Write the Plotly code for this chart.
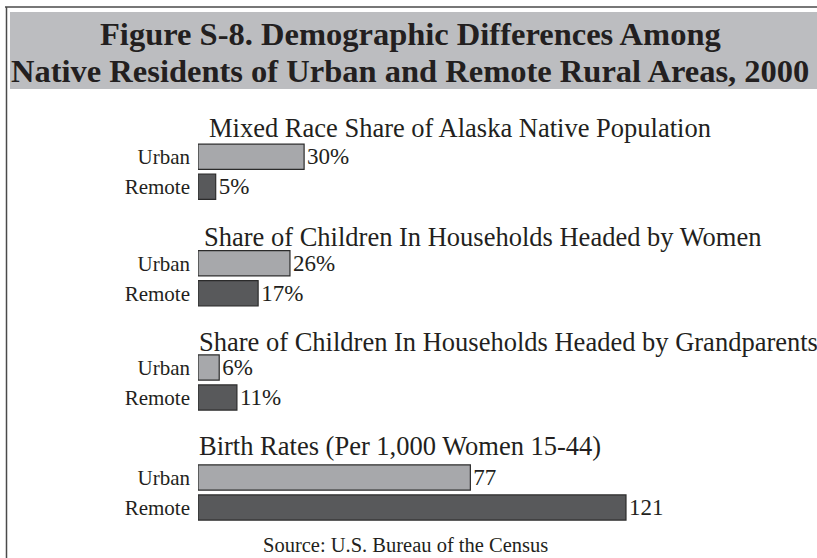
import plotly.graph_objects as go

W, H = 817, 558

categories = ["Urban", "Remote"]

panel_titles = [
    "Mixed Race Share of Alaska Native Population",
    "Share of Children In Households Headed by Women",
    "Share of Children In Households Headed by Grandparents",
    "Birth Rates (Per 1,000 Women 15-44)",
]
mixed_race = [30, 5]
headed_by_women = [26, 17]
headed_by_grandparents = [6, 11]
birth_rates = [77, 121]
value_suffix = ["%", "%", "%", ""]

series = [mixed_race, headed_by_women, headed_by_grandparents, birth_rates]

TEXT = "#231f20"
FONT = "Liberation Serif, Times New Roman, serif"
bar_colors = ["#a7a8ab", "#58595b"]

# pixel layout of the four panels (top, bottom of category band) and title spots
panel_px = [(141.75, 201.75), (248.25, 308.25), (352.5, 412.5), (462.5, 522.5)]
title_px = [(207, 128), (202, 237), (197, 342), (197, 446)]


def py(p):
    return 1 - p / H


def px_x(p):
    return p / W


fig = go.Figure()

for i, vals in enumerate(series):
    n = "" if i == 0 else str(i + 1)
    fig.add_trace(go.Bar(
        x=vals,
        y=categories,
        orientation="h",
        marker=dict(color=bar_colors, line=dict(color="#2b2b2b", width=1.2)),
        text=[f"{v}{value_suffix[i]}" for v in vals],
        textposition="outside",
        textfont=dict(family=FONT, size=23, color=TEXT),
        cliponaxis=False,
        xaxis="x" + n,
        yaxis="y" + n,
        showlegend=False,
        hoverinfo="skip",
    ))
    top, bot = panel_px[i]
    fig.layout["xaxis" + n] = dict(
        domain=[px_x(198), 1.0], range=[0, 175], visible=False,
        anchor="y" + n, fixedrange=True,
    )
    fig.layout["yaxis" + n] = dict(
        domain=[py(bot), py(top)], autorange="reversed",
        anchor="x" + n, showgrid=False, zeroline=False, showline=False,
        ticks="", ticklabelstandoff=7, fixedrange=True,
        tickfont=dict(family=FONT, size=21, color=TEXT),
    )
    tx, ty = title_px[i]
    fig.add_annotation(
        text=panel_titles[i], x=px_x(tx), y=py(ty), xref="paper", yref="paper",
        xanchor="left", yanchor="middle", showarrow=False,
        font=dict(family=FONT, size=26.5, color=TEXT),
    )

# title banner and frame
fig.add_shape(type="rect", xref="paper", yref="paper",
              x0=px_x(10), x1=1.0, y0=py(89), y1=py(12),
              fillcolor="#bcbdc0", line=dict(width=0), layer="below")
fig.add_shape(type="line", xref="paper", yref="paper",
              x0=px_x(5), x1=1.0, y0=py(7), y1=py(7),
              line=dict(color="#4a4a4a", width=1.5))
fig.add_shape(type="line", xref="paper", yref="paper",
              x0=px_x(6.5), x1=px_x(6.5), y0=py(7), y1=0,
              line=dict(color="#4a4a4a", width=1.5))

title_lines = [
    "Figure S-8. Demographic Differences Among",
    "Native Residents of Urban and Remote Rural Areas, 2000",
]
for line, cy in zip(title_lines, [34, 71]):
    fig.add_annotation(
        text=f"<b>{line}</b>", x=px_x(410), y=py(cy), xref="paper", yref="paper",
        xanchor="center", yanchor="middle", showarrow=False,
        font=dict(family=FONT, size=32.5, color=TEXT),
    )

fig.add_annotation(
    text="Source: U.S. Bureau of the Census", x=px_x(405), y=py(545),
    xref="paper", yref="paper", xanchor="center", yanchor="middle",
    showarrow=False, font=dict(family=FONT, size=20.5, color=TEXT),
)

fig.update_layout(
    width=W, height=H,
    margin=dict(l=0, r=0, t=0, b=0),
    paper_bgcolor="white", plot_bgcolor="white",
    bargap=0.16,
)

# drop the page's default body margin so the figure sits at the window corner
fig.write_html("out.html", config={"displayModeBar": False},
               post_script="document.body.style.margin = '0';")
